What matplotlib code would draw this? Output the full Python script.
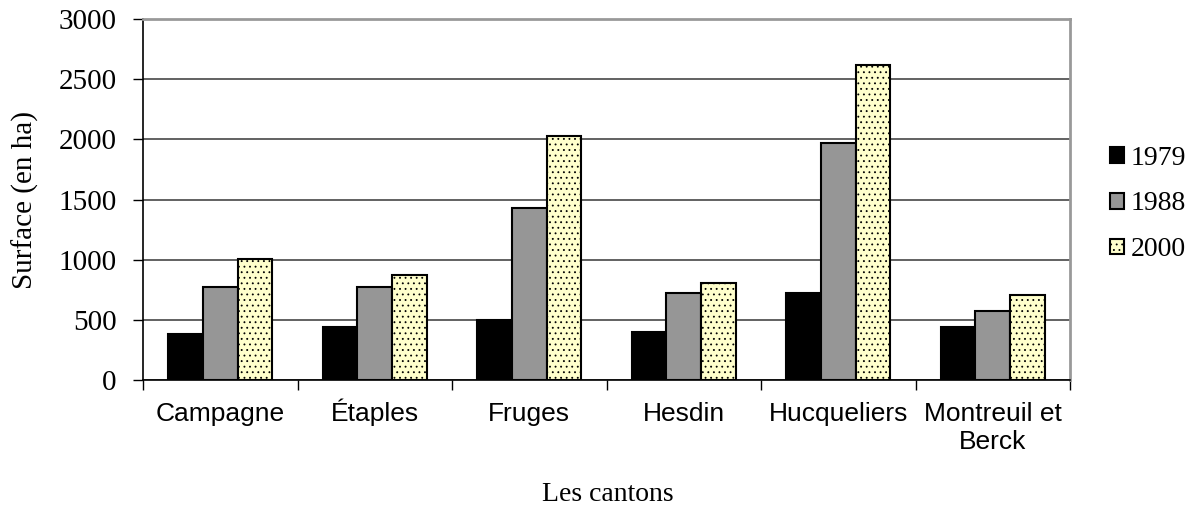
import matplotlib.pyplot as plt
import matplotlib.transforms as mtransforms
import numpy as np

cantons = ['Campagne', 'Étaples', 'Fruges', 'Hesdin', 'Hucqueliers', 'Montreuil et\nBerck']
years = ['1979', '1988', '2000']
v1979 = [380, 440, 500, 400, 725, 440]
v1988 = [770, 770, 1430, 720, 1970, 570]
v2000 = [1005, 870, 2030, 805, 2615, 710]

serif = 'Liberation Serif'
sans = 'Liberation Sans'

fig = plt.figure(figsize=(11.92, 5.09), dpi=100)
ax = fig.add_axes([0.12, 0.2534, 0.7777, 0.7093])

x = np.arange(len(cantons)) + 0.5
w = 0.225
plt.rcParams['hatch.linewidth'] = 0.6
ax.bar(x - w, v1979, w, color='black', edgecolor='black', linewidth=1.5, label=years[0], zorder=3)
ax.bar(x, v1988, w, color='#969696', edgecolor='black', linewidth=1.5, label=years[1], zorder=3)
ax.bar(x + w, v2000, w, color='#FFFFCC', edgecolor='black', linewidth=1.5, hatch='...',
       label=years[2], zorder=3)

ax.set_xlim(0, len(cantons))
ax.set_ylim(0, 3000)
ax.set_yticks(range(0, 3001, 500))
ax.set_xticks(range(0, len(cantons) + 1))
ax.set_xticklabels([])
ax.tick_params(axis='x', length=7, width=1, direction='out')
ax.tick_params(axis='y', length=7, width=1, direction='out', pad=12)
for t in ax.get_yticklabels():
    t.set_fontfamily(serif)
    t.set_fontsize(21)

# category names, each line on its own baseline below the axis
base = mtransforms.blended_transform_factory(ax.transData, ax.transAxes)
for xi, name in zip(x, cantons):
    for j, line in enumerate(name.split('\n')):
        tr = mtransforms.offset_copy(base, fig=fig, y=-(41 + 28 * j), units='dots')
        ax.text(xi, 0, line, transform=tr, ha='center', va='baseline',
                fontfamily=sans, fontsize=19)

ax.yaxis.grid(True, color='#555555', linewidth=1.3, zorder=0)
ax.set_axisbelow(True)
for s in ['top', 'right']:
    ax.spines[s].set_color('#999999')
    ax.spines[s].set_linewidth(2)
for s in ['left', 'bottom']:
    ax.spines[s].set_color('black')
    ax.spines[s].set_linewidth(1.2)

ax.set_ylabel('Surface (en ha)', fontfamily=serif, fontsize=21, labelpad=14)
fig.text(0.51, 0.053, 'Les cantons', ha='center', va='top', fontfamily=serif, fontsize=20)

leg = ax.legend(loc='upper left', bbox_to_anchor=(0.9104, 0.763), bbox_transform=fig.transFigure,
                frameon=False, handlelength=0.5, handleheight=0.5, handletextpad=0.25,
                labelspacing=0.75, prop={'family': serif, 'size': 20})

fig.savefig('out.png', dpi=100)
